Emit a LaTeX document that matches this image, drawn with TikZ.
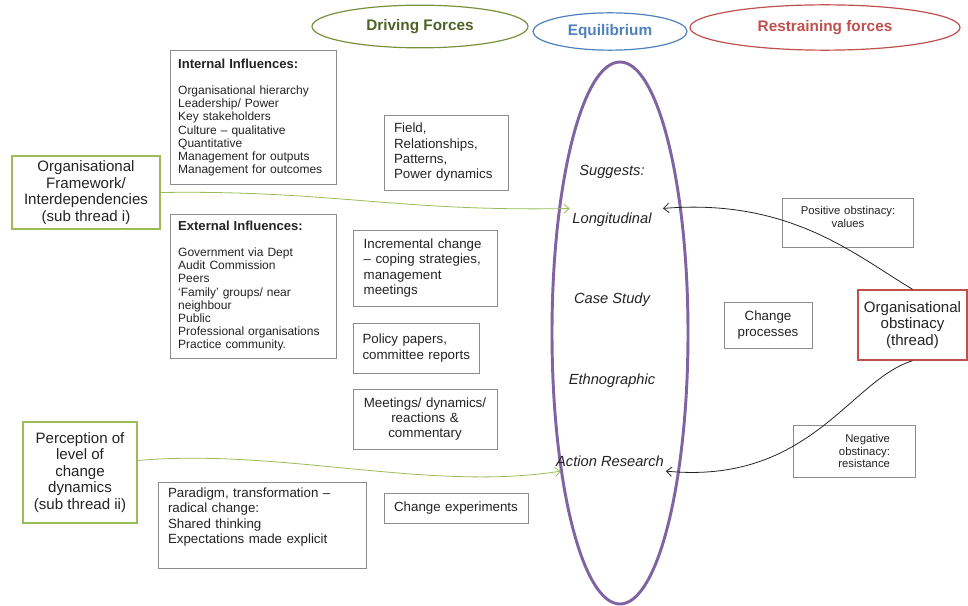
\documentclass[tikz,border=0pt]{standalone}
\usepackage{fontspec}
\setmainfont{Liberation Sans}
\usepackage{xcolor}
\usepackage{tikz}
\usetikzlibrary{positioning,arrows.meta,shapes.geometric}
\definecolor{driveolive}{RGB}{79,98,40}
\definecolor{oliveline}{RGB}{118,146,60}
\definecolor{eqblue}{RGB}{79,129,189}
\definecolor{restred}{RGB}{192,80,77}
\definecolor{ovalpurple}{RGB}{128,100,162}
\definecolor{threadgreen}{RGB}{155,187,89}
\definecolor{boxgray}{RGB}{140,140,140}
\definecolor{inktext}{RGB}{35,35,35}
\tikzset{
  infobox/.style={draw=boxgray, line width=0.6pt, text=inktext, align=left,
                  inner xsep=7pt, inner ysep=2pt, font=\fontsize{10}{11.5}\selectfont},
  listbox/.style={infobox, inner xsep=6pt, font=\fontsize{9}{9.9}\selectfont},
  smallbox/.style={infobox, align=center, font=\fontsize{8.5}{9.5}\selectfont},
  threadbox/.style={draw=threadgreen, line width=1.2pt, text=inktext, align=center,
                    font=\fontsize{11.3}{12.4}\selectfont},
  forceoval/.style={ellipse, line width=0.9pt, inner sep=0pt,
                    font=\bfseries\fontsize{11.5}{13}\selectfont},
  method/.style={text=inktext, font=\itshape\fontsize{11}{13}\selectfont},
  arrow/.style={-{Straight Barb[length=4pt,width=7pt]}, line width=0.6pt},
}
\newcommand{\boxtitle}[1]{{\bfseries\fontsize{9.8}{9.9}\selectfont #1}}

\begin{document}
\begin{tikzpicture}[x=0.75pt,y=-0.75pt]
  \useasboundingbox (0,0) rectangle (968,606);

  \node[forceoval, draw=oliveline, text=driveolive, minimum width=162pt, minimum height=32pt] (driving) at (420,26.5) {Driving Forces};
  \node[forceoval, draw=eqblue, text=eqblue, minimum width=115.5pt, minimum height=28pt] (balance) at (610,31.5) {Equilibrium};
  \node[forceoval, draw=restred, text=restred, minimum width=202.5pt, minimum height=34pt] (restraining) at (825,27.5) {Restraining forces};

  \node[ellipse, draw=ovalpurple, line width=2.2pt, minimum width=102pt, minimum height=406.5pt] (frame) at (620,333) {};
  \node[method] (sugg) at (612,172) {Suggests:};
  \node[method] (longit) at (612,220) {Longitudinal};
  \node[method] (casestudy) at (612,300) {Case Study};
  \node[method] (ethno) at (612,381) {Ethnographic};
  \node[method] (actres) at (610,461) {Action Research};

  \node[listbox, text width=113pt, minimum height=101pt] (internal) at (253.5,117.5)
    {\boxtitle{Internal Influences:}\\[9.9pt]
     Organisational hierarchy\\ Leadership/ Power\\ Key stakeholders\\ Culture – qualitative\\
     Quantitative\\ Management for outputs\\ Management for outcomes};
  \node[listbox, text width=113pt, minimum height=108pt] (external) at (253.5,286)
    {\boxtitle{External Influences:}\\[9.9pt]
     Government via Dept\\ Audit Commission\\ Peers\\ ‘Family’ groups/ near\\ neighbour\\
     Public\\ Professional organisations\\ Practice community.};

  \node[threadbox, minimum width=111pt, minimum height=53.25pt] (orgframe) at (86,192.5)
    {Organisational\\ Framework/\\ Interdependencies\\ (sub thread i)};
  \node[threadbox, minimum width=85.5pt, minimum height=75.75pt] (percep) at (80,472.5)
    {Perception of\\ level of\\ change\\ dynamics\\ (sub thread ii)};

  \node[infobox, text width=78pt, minimum height=56.25pt, inner xsep=7.5pt] (field) at (446,152.5)
    {Field,\\ Relationships,\\ Patterns,\\ Power dynamics};
  \node[infobox, text width=92pt, minimum height=57pt, inner xsep=8pt] (increm) at (425,268)
    {Incremental change\\ – coping strategies,\\ management\\ meetings};
  \node[infobox, text width=81pt, minimum height=37.5pt] (policy) at (416.5,348)
    {Policy papers,\\ committee reports};
  \node[infobox, align=center, text width=92pt, minimum height=45pt, inner xsep=8pt] (meetings) at (425,419)
    {Meetings/ dynamics/\\ reactions \&\\ commentary};
  \node[infobox, text width=141pt, minimum height=64.5pt, inner xsep=7.5pt] (paradigm) at (262,525)
    {Paradigm, transformation –\\ radical change:\\ Shared thinking\\
     Expectations made explicit\rule[-14pt]{0pt}{0pt}};
  \node[infobox, align=center, text width=98pt, minimum height=22.5pt, inner xsep=5pt] (experim) at (456,508)
    {Change experiments};

  \node[smallbox, text width=84pt, minimum height=36.75pt] (positive) at (848,222.5)
    {Positive obstinacy:\\ values\rule[-8pt]{0pt}{0pt}};
  \node[infobox, align=center, text width=54pt, minimum height=34.5pt, inner xsep=6pt] (changeproc) at (768,325)
    {Change\\ processes};
  \node[threadbox, draw=restred, line width=1.1pt, minimum width=81.75pt, minimum height=52.5pt] (obst) at (912.5,325)
    {Organisational\\ obstinacy\\ (thread)};
  \node[smallbox, align=right, text width=54pt, minimum height=39pt, inner xsep=18.75pt] (negative) at (854,451)
    {Negative\\ obstinacy:\\ resistance};

  \draw[arrow, threadgreen] (orgframe.east) .. controls (330,190) and (400,212) .. ([xshift=1.5pt]longit.north west);
  \draw[arrow, threadgreen] ([yshift=9pt]percep.east) .. controls (280,448) and (430,492) .. ([xshift=7pt]actres.south west);
  \draw[arrow, inktext] (obst.north) .. controls (855,255) and (790,198) .. ([xshift=5pt]longit.north east);
  \draw[arrow, inktext] (obst.south) .. controls (850,380) and (810,485) .. ([xshift=-2pt]actres.south east);
\end{tikzpicture}
\end{document}
